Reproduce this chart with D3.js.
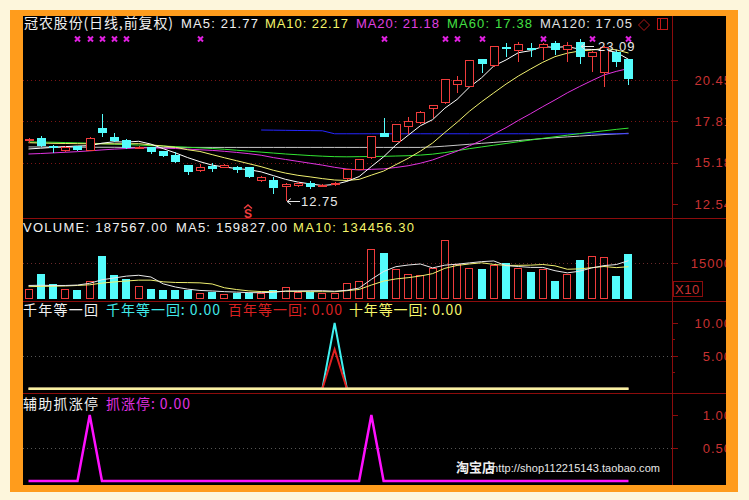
<!DOCTYPE html>
<html><head><meta charset="utf-8">
<script src="https://cdn.jsdelivr.net/npm/d3@7/dist/d3.min.js"></script>
<style>body{margin:0;background:#fdf6dc}svg{display:block}</style>
</head><body>
<svg id="c" width="749" height="500"></svg>
<script>
// ---------- data ----------
const days = [1,2,3,4,5,6,7,8,9,10,11,12,13,14,15,16,17,18,19,20,21,22,23,24,25,26,27,28,29,30,31,32,33,34,35,36,37,38,39,40,41,42,43,44,45,46,47,48,49,50];
const open  = [16.53,16.75,16.24,15.92,16.24,15.94,17.37,16.81,16.62,16.07,16.16,15.92,15.65,15.01,14.64,14.96,14.85,14.92,14.88,13.99,14.07,13.60,13.71,13.90,13.64,13.73,14.11,14.71,15.45,17.05,16.51,17.43,17.69,18.58,18.96,20.13,20.02,21.77,21.34,22.54,22.32,22.47,22.47,22.79,22.36,22.89,21.94,20.88,22.26,21.77];
const high  = [16.75,16.89,16.28,16.22,16.27,16.80,18.28,17.05,16.70,16.24,16.20,15.95,15.84,15.04,15.07,15.15,15.06,14.96,14.92,14.30,14.28,13.85,13.94,14.00,13.80,13.95,14.78,15.42,16.90,18.04,17.66,18.09,18.46,18.84,20.51,20.70,21.75,21.80,22.65,22.79,22.90,22.81,22.80,22.96,22.85,23.09,22.30,22.62,22.30,21.80];
const low   = [16.45,16.20,15.79,15.88,15.92,15.90,16.83,16.50,16.05,16.03,15.73,15.56,15.14,14.39,14.60,14.58,14.82,14.50,14.20,13.95,13.17,12.75,13.62,13.49,13.60,13.68,14.08,14.68,15.42,16.80,16.48,17.00,17.66,18.00,18.92,19.61,19.99,20.88,21.30,21.94,21.62,21.94,21.75,22.04,21.62,21.47,20.98,20.03,21.30,20.13];
const close = [16.68,16.24,16.11,16.19,15.98,16.77,17.05,16.56,16.11,16.20,15.87,15.60,15.22,14.60,14.92,14.75,15.03,14.71,14.24,14.24,13.54,13.81,13.86,13.64,13.75,13.90,14.75,15.39,16.88,16.83,17.64,17.85,18.43,18.84,20.49,20.45,21.73,21.45,22.62,22.41,22.75,22.36,22.75,22.36,22.68,21.94,22.26,22.58,21.62,20.50];
const ma5   = [16.05,16.10,16.15,16.20,16.24,16.26,16.42,16.51,16.49,16.54,16.36,16.07,15.80,15.50,15.24,15.02,14.90,14.80,14.73,14.59,14.35,14.11,13.94,13.82,13.72,13.79,13.98,14.29,14.93,15.55,16.30,16.92,17.53,17.92,18.65,19.21,19.99,20.59,21.35,21.73,22.19,22.32,22.58,22.53,22.58,22.42,22.40,22.36,22.22,21.77];
const ma10  = [16.45,16.43,16.41,16.40,16.39,16.38,16.38,16.38,16.38,16.39,16.31,16.24,16.16,16.00,15.89,15.69,15.49,15.30,15.11,14.92,14.69,14.51,14.37,14.27,14.16,14.07,14.04,14.11,14.38,14.64,15.05,15.45,15.91,16.43,17.10,17.75,18.45,19.06,19.63,20.19,20.70,21.15,21.58,21.94,22.16,22.30,22.36,22.47,22.37,22.17];
const ma20  = [15.73,15.76,15.80,15.84,15.88,15.93,15.99,16.04,16.08,16.12,16.12,16.10,16.08,16.04,16.00,15.96,15.90,15.83,15.75,15.65,15.50,15.38,15.26,15.14,15.02,14.88,14.77,14.71,14.75,14.78,14.87,14.98,15.14,15.35,15.63,15.91,16.25,16.59,17.00,17.41,17.87,18.30,18.75,19.18,19.63,20.03,20.41,20.77,21.00,21.18];
const ma60  = [16.50,16.49,16.48,16.46,16.44,16.42,16.39,16.36,16.33,16.30,16.27,16.24,16.20,16.16,16.12,16.08,16.03,15.97,15.91,15.85,15.79,15.73,15.68,15.63,15.59,15.56,15.55,15.56,15.57,15.58,15.60,15.62,15.66,15.72,15.82,15.94,16.07,16.18,16.29,16.40,16.51,16.62,16.73,16.83,16.93,17.03,17.12,17.21,17.30,17.38];
const ma120 = [16.18,16.18,16.17,16.17,16.17,16.16,16.16,16.16,16.15,16.15,16.15,16.15,16.15,16.15,16.15,16.15,16.15,16.15,16.15,16.15,16.15,16.15,16.15,16.15,16.15,16.15,16.15,16.15,16.15,16.15,16.15,16.15,16.15,16.18,16.23,16.29,16.35,16.41,16.47,16.53,16.59,16.65,16.71,16.77,16.82,16.87,16.92,16.97,17.01,17.05];
const blueLine = [null,null,null,null,null,null,null,null,null,null,null,null,null,null,null,null,null,null,null,17.26,17.25,17.24,17.23,17.22,17.21,17.02,17.02,17.02,17.02,17.02,17.02,17.02,17.02,17.02,17.02,17.02,17.02,17.02,17.02,17.02,17.02,17.02,17.02,17.02,17.02,17.02,17.02,17.02,17.02,17.02];
const volume = [39000,105000,63000,42000,35000,76000,180000,101000,81000,53000,39000,35000,35000,36000,25000,28000,21000,25000,25000,24000,36000,48000,28000,28000,25000,25000,67000,76000,211000,192000,126000,102000,98000,129000,249000,147000,129000,125000,143000,150000,129000,110000,125000,73000,105000,163000,180000,174000,95000,187567];
const volMa5 = [55000,56000,55000,55000,56800,64200,79200,86800,94600,98200,90800,61800,48600,39600,34000,31800,29000,27000,24800,24600,26200,31600,32200,32800,33000,30800,34600,44200,80800,114200,134400,141400,145800,129400,140800,145000,150400,155800,158600,138800,135200,131400,131400,117400,108400,115200,129200,139000,143400,159827];
const volMa10 = [50000,51000,52000,53000,55000,58000,65000,70000,74000,77500,77500,70500,67700,67100,66100,61300,45400,37800,32200,29300,29000,30300,29600,28800,28800,28500,33100,38200,56800,73600,82600,88000,95000,105100,127500,139700,145900,150800,144000,139800,140100,140900,143600,138000,123600,125200,130300,135200,130400,134456.3];
const qian  = [0,0,0,0,0,0,0,0,0,0,0,0,0,0,0,0,0,0,0,0,0,0,0,0,0,10,0,0,0,0,0,0,0,0,0,0,0,0,0,0,0,0,0,0,0,0,0,0,0,0];
const bai   = [0,0,0,0,0,0,0,0,0,0,0,0,0,0,0,0,0,0,0,0,0,0,0,0,0,6,0,0,0,0,0,0,0,0,0,0,0,0,0,0,0,0,0,0,0,0,0,0,0,0];
const shi   = [0,0,0,0,0,0,0,0,0,0,0,0,0,0,0,0,0,0,0,0,0,0,0,0,0,0,0,0,0,0,0,0,0,0,0,0,0,0,0,0,0,0,0,0,0,0,0,0,0,0];
const zhang = [0,0,0,0,0,1,0,0,0,0,0,0,0,0,0,0,0,0,0,0,0,0,0,0,0,0,0,0,1,0,0,0,0,0,0,0,0,0,0,0,0,0,0,0,0,0,0,0,0,0];
const markIdx = [4,5,6,7,8,14,29,34,35,37,42,46,49];
const priceTicks = [20.45,17.81,15.18,12.54];
const volTicks = [150000];
const p3Ticks = [10,5];
const p4Ticks = [1,0.5];

// ---------- setup ----------
const W=749,H=500;
const RED="#f03c3c", CYAN="#54fcfc", AX="#8c0c0c", LBL="#c83232";
const LAT="'Liberation Sans',Arial,'Noto Sans CJK SC',sans-serif";
const CJK="'Noto Sans CJK SC','Liberation Sans',sans-serif";
const svg=d3.select("#c");
svg.append("rect").attr("width",W).attr("height",H).attr("fill","#fdf6dc");
svg.append("rect").attr("x",10).attr("y",10).attr("width",728).attr("height",482).attr("fill","#ff9c1c");
svg.append("rect").attr("x",23).attr("y",16).attr("width",703).attr("height",469).attr("fill","#000");
svg.append("defs").append("clipPath").attr("id","pc").append("rect").attr("x",23).attr("y",16).attr("width",703).attr("height",469);
const g=svg.append("g").attr("clip-path","url(#pc)");

const x=d3.scaleBand().domain(days).range([22.38,634.62]);
const cx=i=>x(days[i])+x.bandwidth()/2;
const px=i=>Math.round(cx(i));
const yP=d3.scaleLinear().domain([12.54,20.45]).range([204,80]);
const yV=d3.scaleLinear().domain([0,150000]).range([298.5,263]);
const y3=d3.scaleLinear().domain([0,10]).range([388.7,323]);
const y4=d3.scaleLinear().domain([0,1]).range([481,415]);

// panel dividers & axis
[218.5,301.5,393.5].forEach(y=>g.append("line").attr("x1",23).attr("x2",726).attr("y1",y).attr("y2",y).attr("stroke",AX));
g.append("line").attr("x1",672.5).attr("x2",672.5).attr("y1",16).attr("y2",485).attr("stroke",AX);

function grid(y,col){g.append("line").attr("x1",23).attr("x2",672).attr("y1",Math.round(y)+0.5).attr("y2",Math.round(y)+0.5)
  .attr("stroke",col).attr("stroke-dasharray","1,3");}
function tick(y,len){g.append("line").attr("x1",672).attr("x2",672+len).attr("y1",Math.round(y)+0.5).attr("y2",Math.round(y)+0.5).attr("stroke",AX);}
function label(y,t){g.append("text").attr("x",732).attr("y",y+4.7).attr("text-anchor","end").attr("fill",LBL)
  .attr("font-family",LAT).attr("font-size",13).attr("letter-spacing",1).text(t);}

priceTicks.forEach((v,i)=>{ if(i<3) grid(yP(v),"#7a1616"); tick(yP(v),6); label(yP(v),v.toFixed(2)); });
volTicks.forEach(v=>{ grid(yV(v),"#6a2a2a"); tick(yV(v),6); label(yV(v),String(v/10)); });
p3Ticks.forEach(v=>{ if(v===5) grid(y3(v),"#555"); tick(y3(v),6); label(y3(v),v.toFixed(2)); });
tick(y3(7.5),3); tick(y3(2.5),3);
p4Ticks.forEach(v=>{ if(v===0.5) grid(y4(v),"#555"); tick(y4(v),6); label(y4(v),v.toFixed(2)); });
g.append("rect").attr("x",673.5).attr("y",281.5).attr("width",29).attr("height",15).attr("fill","none").attr("stroke",AX);
g.append("text").attr("x",675).attr("y",294).attr("fill",LBL).attr("font-family",LAT).attr("font-size",13).attr("letter-spacing",0.5).text("X10");

// ---------- MA lines (drawn under candles) ----------
function path(arr,yS,col,w){
  const line=d3.line().defined(v=>v!=null).x((v,i)=>cx(i)).y(v=>yS(v));
  g.append("path").datum(arr).attr("d",line).attr("fill","none").attr("stroke",col).attr("stroke-width",w||1);
}
path(ma120,yP,"#c8c8c8");
path(blueLine,yP,"#2626ff");
path(ma60,yP,"#33e633");
path(ma20,yP,"#e033e0");
path(ma10,yP,"#f0f070");
path(ma5,yP,"#ffffff");

// ---------- candles ----------
const idx=days.map((d,i)=>i);
const cg=g.append("g").attr("shape-rendering","crispEdges");
idx.forEach(i=>{
  const up=close[i]>=open[i], col=up?RED:CYAN, xc=px(i)+0.5;
  const top=yP(Math.max(open[i],close[i])), bot=yP(Math.min(open[i],close[i]));
  const t=Math.round(top), b=Math.max(Math.round(bot),t+1);
  cg.append("line").attr("x1",xc).attr("x2",xc).attr("y1",yP(high[i])).attr("y2",t).attr("stroke",col);
  cg.append("line").attr("x1",xc).attr("x2",xc).attr("y1",b).attr("y2",yP(low[i])).attr("stroke",col);
  if(up) cg.append("rect").attr("x",px(i)-4+0.5).attr("y",t+0.5).attr("width",8).attr("height",Math.max(b-t-1,1)).attr("fill","#000").attr("stroke",col);
  else cg.append("rect").attr("x",px(i)-4).attr("y",t).attr("width",9).attr("height",Math.max(b-t,2)).attr("fill",col);
});

// ---------- volume ----------
const vg=g.append("g").attr("shape-rendering","crispEdges");
idx.forEach(i=>{
  const up=close[i]>=open[i], t=Math.round(yV(volume[i])), b=Math.round(yV(0));
  if(up) vg.append("rect").attr("x",px(i)-4+0.5).attr("y",t+0.5).attr("width",7).attr("height",b-t-1).attr("fill","none").attr("stroke",RED);
  else vg.append("rect").attr("x",px(i)-4).attr("y",t).attr("width",8).attr("height",b-t).attr("fill",CYAN);
});
path(volMa10,yV,"#f0f070");
path(volMa5,yV,"#e8e8e8");

// ---------- indicator panels ----------
path(qian,y3,"#40f0f0",2);
path(bai,y3,"#e02020",2);
path(shi,y3,"#f8f0a0",2.5);
path(zhang,y4,"#ff10ff",2.5);

// ---------- markers ----------
markIdx.forEach(i=>{
  g.append("path").attr("transform",`translate(${px(i)+0.5},39)`).attr("d","M-2.5,-2.5L2.5,2.5M-2.5,2.5L2.5,-2.5")
   .attr("stroke","#e020e0").attr("stroke-width",2);
});
// low / high annotations
function arrowLabel(i,val,yText,dx){
  const xa=px(i)+1, ya=yText-4.5;
  g.append("path").attr("d",`M${xa},${ya}L${xa+13},${ya}M${xa},${ya}L${xa+4},${ya-3}M${xa},${ya}L${xa+4},${ya+3}`).attr("stroke","#e8e8e8").attr("fill","none");
  g.append("text").attr("x",xa+dx).attr("y",yText).attr("fill","#e8e8e8").attr("font-family",LAT).attr("font-size",13).attr("letter-spacing",1).text(val.toFixed(2));
}
const iLow=low.indexOf(d3.min(low)), iHigh=high.indexOf(d3.max(high));
arrowLabel(iLow,low[iLow],206,14);
arrowLabel(iHigh,high[iHigh],51,17);
// S marker
g.append("path").attr("d","M244,208.5L248,205L252,208.5").attr("stroke",RED).attr("stroke-width",1.5).attr("fill","none");
g.append("text").attr("x",248).attr("y",218).attr("text-anchor","middle").attr("fill",RED).attr("font-family",LAT).attr("font-weight","bold").attr("font-size",12).text("S");

// ---------- titles ----------
function seg(t,x0,x1,y,col,font,size){
  g.append("text").attr("x",x0).attr("y",y).attr("fill",col).attr("font-family",font).attr("font-size",size||13)
   .attr("textLength",x1-x0).attr("lengthAdjust","spacing").text(t);
}
const last=a=>a[a.length-1];
seg("冠农股份(日线,前复权)",24,173,28,"#f0f0f0",CJK,14);
seg(`MA5: ${last(ma5).toFixed(2)}`,181,258,28,"#f0f0f0",LAT);
seg(`MA10: ${last(ma10).toFixed(2)}`,265,348,28,"#f5f56a",LAT);
seg(`MA20: ${last(ma20).toFixed(2)}`,356,439,28,"#e040e0",LAT);
seg(`MA60: ${last(ma60).toFixed(2)}`,447,532,28,"#44e044",LAT);
seg(`MA120: ${last(ma120).toFixed(2)}`,540,632,28,"#e0e0e0",LAT);
g.append("path").attr("d","M644,19.5L649.5,25L644,30.5L638.5,25Z").attr("fill","none").attr("stroke","#b01818");
g.append("rect").attr("x",657.5).attr("y",18.5).attr("width",10).attr("height",11).attr("fill","none").attr("stroke","#c01818");
g.append("line").attr("x1",660.5).attr("x2",660.5).attr("y1",18.5).attr("y2",29.5).attr("stroke","#c01818");

seg(`VOLUME: ${last(volume).toFixed(2)}`,23,167,232,"#f0f0f0",LAT);
seg(`MA5: ${last(volMa5).toFixed(2)}`,176,287,232,"#f0f0f0",LAT);
seg(`MA10: ${last(volMa10).toFixed(2)}`,293,414,232,"#f5f56a",LAT);

seg("千年等一回",23,98,315,"#f0f0f0",CJK,14);
seg(`千年等一回: ${last(qian).toFixed(2)}`,106,220,315,"#40e8e8",CJK,14);
seg(`百年等一回: ${last(bai).toFixed(2)}`,228,342,315,"#d82020",CJK,14);
seg(`十年等一回: ${last(shi).toFixed(2)}`,349,462,315,"#f5f56a",CJK,14);

seg("辅助抓涨停",23,98,409,"#f0f0f0",CJK,14);
seg(`抓涨停: ${last(zhang).toFixed(2)}`,106,190,409,"#e030e0",CJK,14);

g.append("text").attr("x",456).attr("y",472).attr("fill","#f0f0f0").attr("font-family",CJK).attr("font-weight","bold").attr("font-size",13).text("淘宝店");
seg(":http://shop112215143.taobao.com",489,660,472,"#e8e8e8",LAT,11);
</script>
</body></html>
